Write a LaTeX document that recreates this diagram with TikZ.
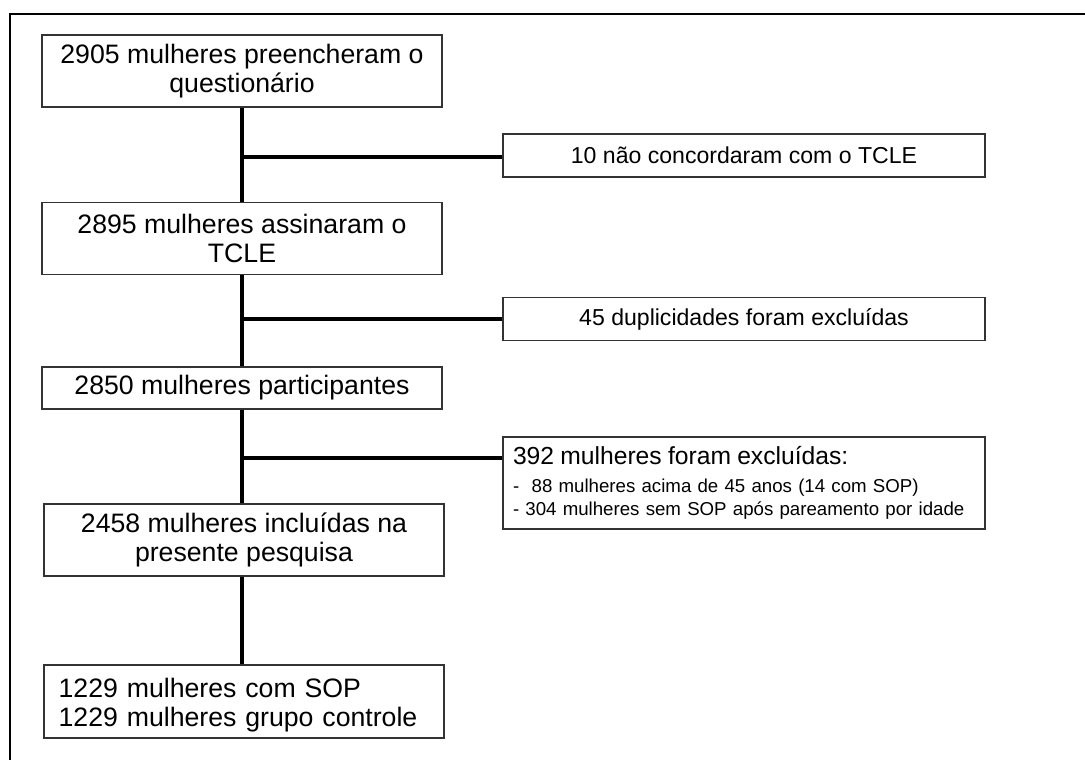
\documentclass[tikz,border=0pt]{standalone}
\usepackage{fontspec}
\setmainfont{Liberation Sans}
\usetikzlibrary{positioning}

\begin{document}
\begin{tikzpicture}[x=0.75pt, y=-0.75pt,
    stagebox/.style={draw=black!80, line width=0.8pt, inner sep=0pt,
      minimum width=300pt, font=\fontsize{20}{22}\selectfont, align=center},
    exclbox/.style={draw=black!80, line width=0.8pt, inner sep=0pt,
      minimum width=361.5pt, minimum height=32.25pt,
      font=\fontsize{17.3}{20}\selectfont, align=center},
    flowline/.style={line width=3pt}]
  \useasboundingbox (0,0) rectangle (1085,760);

  % Frame
  \draw[line width=1.5pt] (10,760) -- (10,14) -- (1085,14);

  % Main stages
  \node[stagebox, minimum height=54pt] (quest) at (242,71)
    {2905 mulheres preencheram o\\questionário};
  \node[stagebox, minimum height=54pt] (tcle) at (242,238.5)
    {2895 mulheres assinaram o\\TCLE};
  \node[stagebox, minimum height=31.5pt] (part) at (242,388)
    {2850 mulheres participantes};
  \node[stagebox, minimum height=54pt] (incl) at (244,540)
    {2458 mulheres incluídas na\\presente pesquisa};
  \node[stagebox, minimum height=54.75pt, align=left, text width=278pt,
    inner xsep=10.5pt] (grupos) at (244,701.5)
    {\rule{0pt}{20pt}1229 mulheres com SOP\\1229 mulheres grupo controle};

  % Exclusions
  \node[exclbox] (naoconc) at (744,155.5) {10 não concordaram com o TCLE};
  \node[exclbox] (dupl) at (744,319) {45 duplicidades foram excluídas};
  \node[exclbox, minimum height=69pt, align=left, text width=346.5pt,
    inner xsep=7.5pt, font=\fontsize{14}{17}\selectfont] (excl) at (744,483)
    {{\fontsize{18.5}{20}\selectfont 392 mulheres foram excluídas:}\\[4pt]
     -~ 88 mulheres acima de 45 anos (14 com SOP)\\
     - 304 mulheres sem SOP após pareamento por idade};

  % Branch points
  \coordinate (b1) at (242,157);
  \coordinate (b2) at (242,319);
  \coordinate (b3) at (242,458);

  % Connectors
  \draw[flowline] (quest.south) -- (tcle.north);
  \draw[flowline] (tcle.south) -- (part.north);
  \draw[flowline] (part.south) -- (part.south |- incl.north);
  \draw[flowline] (incl.south -| part.south) -- (part.south |- grupos.north);
  \draw[flowline] (b1) -- (b1 -| naoconc.west);
  \draw[flowline] (b2) -- (b2 -| dupl.west);
  \draw[flowline] (b3) -- (b3 -| excl.west);
\end{tikzpicture}
\end{document}
